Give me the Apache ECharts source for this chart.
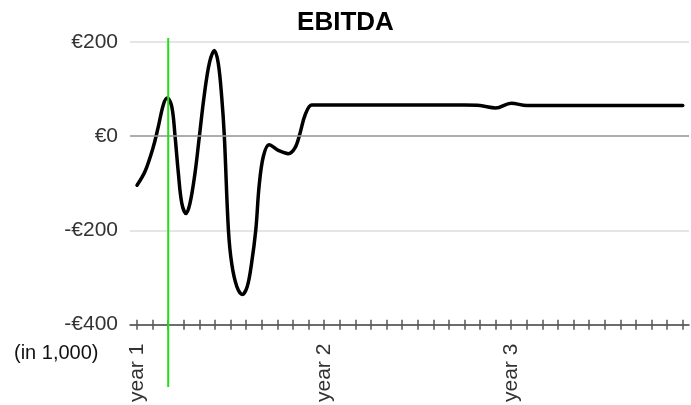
<!DOCTYPE html>
<html>
<head>
<meta charset="utf-8">
<script src="https://cdn.jsdelivr.net/npm/echarts@6/dist/echarts.min.js"></script>
<style>
html,body{margin:0;padding:0;background:#fff;}
#c{width:691px;height:405px;}
</style>
</head>
<body>
<div id="c"></div>
<script>
// time in months from start of year 1 (first year read at finer steps from the picture)
const months = [0, 0.51, 1.05, 1.37, 1.69, 1.94, 2.23, 2.44, 2.65, 2.87, 3.14, 3.4, 3.72, 4.0, 4.3, 4.64, 4.96, 5.21, 5.43, 5.6,
  5.86, 6.08, 6.4, 6.75, 7.07, 7.35, 7.62, 7.83, 8.1, 8.47, 9.06, 9.7, 10.13, 10.46, 10.78, 11.21,
  12, 13, 14, 15, 16, 17, 18, 19, 20, 21, 22, 23, 24, 25, 26, 27, 28, 29, 30, 31, 32, 33, 34, 35];
const ebitda = [-104, -75, -22, 21, 67, 81, 63, 0, -78, -142, -164, -142, -78, 0, 84, 155, 182, 155, 84, 0,
  -198, -272, -319, -336, -319, -269, -198, -106, -43, -18, -30, -37, -25, 7, 45, 66,
  66, 66, 66, 66, 66, 66, 66, 66, 66, 66, 65, 60, 70, 65, 65, 65, 65, 65, 65, 65, 65, 65, 65, 65, 58];
const tickMonths = Array.from({length: 36}, (_, i) => i);
const yearTicks = [0, 12, 24];
const yearLabels = ['year 1', 'year 2', 'year 3'];
const markerMonth = 2;

const FONT = '"Liberation Sans", Arial, sans-serif';
const chart = echarts.init(document.getElementById('c'));
const xCommon = {
  type: 'value', min: -0.45, max: 35.4, position: 'bottom',
  splitLine: {show: false}
};
chart.setOption({
  animation: false,
  backgroundColor: '#fff',
  title: {
    text: 'EBITDA', left: 'center', top: 5,
    textStyle: {fontFamily: FONT, fontSize: 26, fontWeight: 'bold', color: '#000'}
  },
  grid: {left: 130, right: 2, top: 42, bottom: 80},
  xAxis: [
    Object.assign({}, xCommon, {
      axisLine: {show: true, onZero: false, lineStyle: {color: '#444', width: 1.5}},
      axisTick: {show: true, inside: false, length: 5, customValues: tickMonths, lineStyle: {color: '#555', width: 1.5}},
      axisLabel: {
        show: true, rotate: 90, margin: 19, customValues: yearTicks,
        fontFamily: FONT, fontSize: 21, color: '#333',
        formatter: v => yearLabels[yearTicks.indexOf(Math.round(v))] || ''
      }
    }),
    Object.assign({}, xCommon, {
      axisLine: {show: false, onZero: false},
      axisTick: {show: true, inside: true, length: 5, customValues: tickMonths, lineStyle: {color: '#555', width: 1.5}},
      axisLabel: {show: false}
    })
  ],
  yAxis: {
    type: 'value', min: -400, max: 200, interval: 200,
    axisLine: {show: false}, axisTick: {show: false},
    splitLine: {show: true, lineStyle: {color: '#dcdcdc', width: 1.5}},
    axisLabel: {
      margin: 12, fontFamily: FONT, fontSize: 21, color: '#333',
      formatter: v => (v < 0 ? '-€' + Math.abs(v) : '€' + v)
    }
  },
  series: [{
    type: 'line', xAxisIndex: 0,
    data: months.map((m, i) => [m, ebitda[i]]),
    smooth: 0.35, showSymbol: false,
    lineStyle: {color: '#000', width: 3.5, join: 'round', cap: 'round'},
    markLine: {
      silent: true, symbol: 'none', label: {show: false},
      lineStyle: {color: '#9a9a9a', width: 1.5, type: 'solid'},
      data: [{yAxis: 0}]
    },
    z: 3
  }]
});

const gx = chart.convertToPixel({xAxisIndex: 0}, markerMonth);
chart.setOption({
  graphic: [
    {type: 'line', shape: {x1: gx, y1: 38, x2: gx, y2: 387}, style: {stroke: '#22e01a', lineWidth: 2}, z: 10},
    {type: 'text', left: 14, top: 343, style: {text: '(in 1,000)', font: '20px ' + FONT, fill: '#111'}}
  ]
});
</script>
</body>
</html>
